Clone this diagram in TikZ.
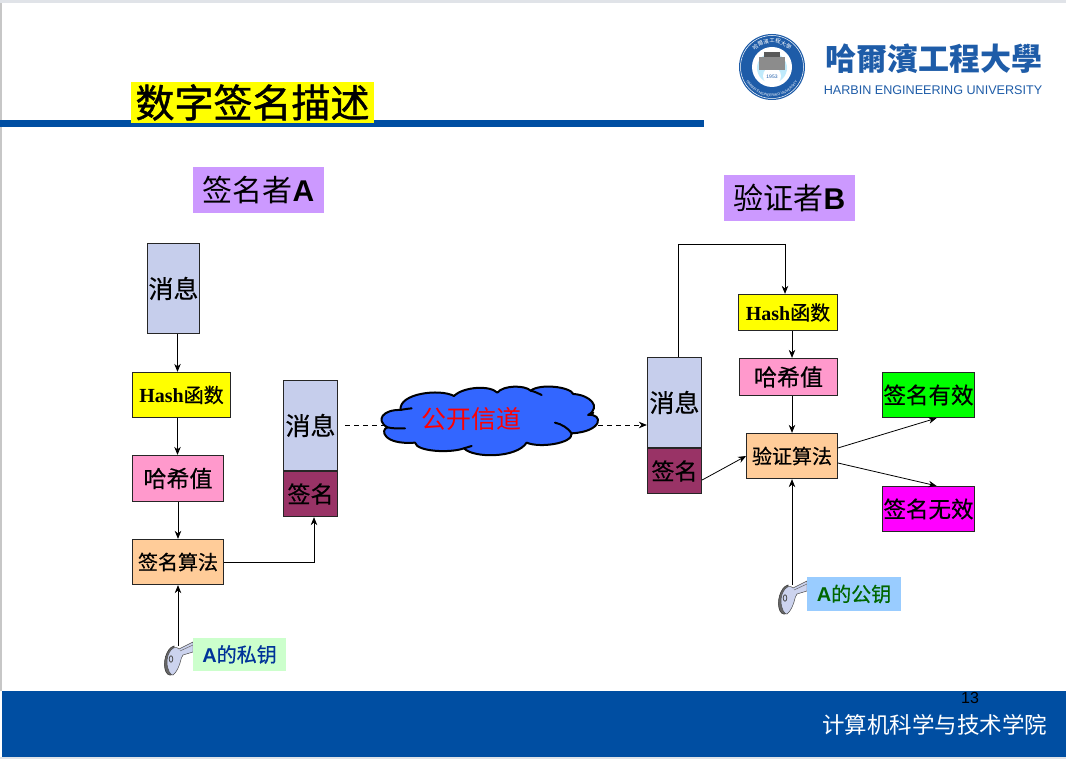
\documentclass[tikz,border=0pt]{standalone}
\usepackage{fontspec}
\setmainfont{Noto Sans CJK SC}
\newfontfamily\latf{Liberation Sans}
\newfontfamily\serf{Liberation Serif}
\newfontfamily\tcf{Noto Sans CJK TC}
\newfontfamily\heavyf[FakeBold=0.5]{Noto Sans CJK SC}
\newfontfamily\titlef[FakeBold=1.2]{Noto Sans CJK SC}
\usetikzlibrary{arrows.meta,decorations.text}
\newcommand{\fsz}[1]{\fontsize{#1}{#1}\selectfont}
\definecolor{msgc}{HTML}{C6CEEC}
\definecolor{sigc}{HTML}{993366}
\definecolor{pinkc}{HTML}{FF99CC}
\definecolor{orgc}{HTML}{FFCC99}
\definecolor{purc}{HTML}{CC99FF}
\definecolor{navy}{HTML}{004EA2}
\definecolor{logoc}{HTML}{1E5CA8}
\definecolor{grayb}{HTML}{E0E3E8}
\definecolor{yel}{HTML}{FFFF00}
\definecolor{grn}{HTML}{00FF00}
\definecolor{mag}{HTML}{FF00FF}
\definecolor{redc}{HTML}{FF0000}
\definecolor{cloudc}{HTML}{3366FF}
\definecolor{ltgrn}{HTML}{CCFFCC}
\definecolor{ltblue}{HTML}{99CCFF}
\definecolor{dkblue}{HTML}{003399}
\definecolor{dkgrn}{HTML}{006600}
\tikzset{
  box/.style={draw=black!85,line width=.8pt,inner sep=0pt,align=center,text=black,font=\heavyf},
  tag/.style={inner sep=0pt,align=center},
  conn/.style={line width=.8pt,-{Stealth[length=8pt,width=6.5pt]}},
  dashconn/.style={conn,dash pattern=on 5pt off 4pt},
  keypic/.pic={
    \fill[black!60,draw=black!80,line width=.5pt] (2,-14) .. controls (-6,-12) and (-10,4) .. (-6,12) .. controls (-4,16) and (0,16) .. (2,13) -- cycle;
    \draw[fill=msgc!90!white,draw=black!70,line width=.5pt] (21,-18) -- (7,-11) .. controls (2,-16) and (-5,-8) .. (-5,2) .. controls (-5,10) and (-1,16) .. (1,15) .. controls (5,12) and (7,6) .. (8,3) .. controls (9,-1) and (10,-4) .. (11,-5) -- (21,-8) -- cycle;
    \draw[black!70,line width=.8pt] (-1,-1) ellipse (1.8pt and 3.2pt);
    \draw[black!60,line width=.5pt] (8,-9) -- (21,-15);
  }
}
\begin{document}
\begin{tikzpicture}[x=1pt,y=-1pt]
\useasboundingbox (0,0) rectangle (1066,759);
% page frame
\fill[white] (0,0) rectangle (1066,759);
\fill[grayb] (0,0) rectangle (1066,3);
\fill[black!22] (0,3) rectangle (2,691);
\fill[navy] (2,691) rectangle (1066,757);
\fill[grayb] (0,757) rectangle (1066,759);
\fill[navy] (0,120) rectangle (704,127);
% title
\node[tag,fill=yel,minimum width=243pt,minimum height=41pt] (title) at (252.5,102.5) {\titlef\fsz{39}数字签名描述};
% logo
\fill[logoc] (772,67) circle (33pt);
\draw[white,line width=.5pt] (772,67) circle (31.5pt);
\fill[white] (772,67) circle (20pt);
\fill[cyan!25] (772,68) circle (15pt);
\fill[white] (772,76) circle (9pt);
\fill[black!45] (759,57) rectangle (785,70);
\fill[black!65] (764,52) rectangle (780,57);
\node[inner sep=0pt,text=logoc] (yr) at (772,77) {\latf\fsz{5}1953};
\begin{scope}[shift={(772,67)},y=1pt]
\path[decorate,decoration={text along path,text align=center,text color=white,
  text={|\latf\fsz{3.6}|HARBIN ENGINEERING UNIVERSITY}}]
  (200:29.5) arc[start angle=200,end angle=340,radius=29.5];
\path[decorate,decoration={text along path,text align=center,text color=white,
  text={|\tcf\fsz{5.5}|哈爾濱工程大學}}]
  (160:24) arc[start angle=160,end angle=20,radius=24];
\end{scope}
\node[inner sep=0pt,text=logoc] (logoname) at (934,58.5) {\tcf\bfseries\fsz{31}哈爾濱工程大學};
\node[inner sep=0pt,text=logoc] (logoen) at (933,90) {\latf\fsz{12.6}HARBIN ENGINEERING UNIVERSITY};
% headings
\node[tag,fill=purc,minimum width=131pt,minimum height=46pt] (signer) at (258.5,190) {\fsz{30}\raisebox{-1pt}{签名者{\latf\bfseries A}}};
\node[tag,fill=purc,minimum width=131pt,minimum height=46pt] (verifier) at (789.5,198) {\fsz{30}\raisebox{-1pt}{验证者{\latf\bfseries B}}};
% signer column
\node[box,fill=msgc,minimum width=52.5pt,minimum height=90.5pt] (amsg) at (173.5,288.5) {\fsz{25}\raisebox{-1pt}{消息}};
\node[box,fill=yel,minimum width=98.5pt,minimum height=45.5pt] (ahash) at (181.5,395) {\fsz{20}{\serf\bfseries Hash}函数};
\node[box,fill=pinkc,minimum width=91pt,minimum height=46.5pt] (aval) at (178,478.5) {\fsz{23}哈希值};
\node[box,fill=orgc,minimum width=91pt,minimum height=45.5pt] (aalg) at (178,562) {\fsz{20}签名算法};
\node[box,fill=msgc,minimum width=54.5pt,minimum height=90.5pt] (smsg) at (310.5,425.5) {\fsz{25}\raisebox{-1pt}{消息}};
\node[box,fill=sigc,minimum width=54.5pt,minimum height=45.5pt] (ssig) at (310.5,494) {\fsz{23}签名};
% channel
\coordinate (dstart) at (345,425);
\coordinate (cleft) at (386,425);
\coordinate (cright) at (598,425);
\draw[dashconn,-] (dstart) -- (cleft);
\begin{scope}[shift={(340,370)},x=.3333pt,y=-.3333pt]
\draw[line width=2pt,fill=cloudc,draw=black,line join=round]
 (142,172) .. controls (105,150) and (130,118) .. (182,120)
 .. controls (175,70) and (300,55) .. (342,78)
 .. controls (370,50) and (450,45) .. (472,68)
 .. controls (490,45) and (555,45) .. (572,62)
 .. controls (600,40) and (690,50) .. (700,72)
 .. controls (750,75) and (785,110) .. (745,135)
 .. controls (790,130) and (790,185) .. (695,190)
 .. controls (700,220) and (600,235) .. (560,218)
 .. controls (530,265) and (400,265) .. (372,235)
 .. controls (330,250) and (230,245) .. (225,218)
 .. controls (130,225) and (120,180) .. (142,172) -- cycle;
\draw[line width=2pt,line cap=round]
 (142,172) .. controls (160,176) and (180,176) .. (195,175)
 (182,120) .. controls (190,118) and (205,116) .. (215,115)
 (572,62) .. controls (585,65) and (595,70) .. (605,75)
 (745,135) .. controls (750,132) and (755,130) .. (760,128)
 (695,190) .. controls (685,175) and (665,162) .. (645,158)
 (372,235) .. controls (380,232) and (390,230) .. (395,228);
\end{scope}
\node[inner sep=0pt,text=redc] (cloudlabel) at (471.7,419) {\fsz{25}公开信道};
% verifier column
\node[box,fill=msgc,minimum width=54.5pt,minimum height=90.5pt] (bmsg) at (674.5,402.5) {\fsz{25}\raisebox{-1pt}{消息}};
\node[box,fill=sigc,minimum width=54.5pt,minimum height=45.5pt] (bsig) at (674.5,471) {\fsz{23}签名};
\node[box,fill=yel,minimum width=99pt,minimum height=36.5pt] (bhash) at (788,312.5) {\fsz{20}{\serf\bfseries Hash}函数};
\node[box,fill=pinkc,minimum width=98.5pt,minimum height=37.5pt] (bval) at (788.5,377) {\fsz{23}哈希值};
\node[box,fill=orgc,minimum width=91pt,minimum height=45.5pt] (balg) at (792,456) {\fsz{20}验证算法};
\node[box,fill=grn,minimum width=92pt,minimum height=45.5pt] (ok) at (928.5,395) {\fsz{22.5}签名有效};
\node[box,fill=mag,minimum width=92pt,minimum height=45.5pt] (bad) at (928.5,509) {\fsz{22.5}签名无效};
% keys
\pic (akey) at (172,660) {keypic};
\pic (bkey) at (786,599) {keypic};
\node[tag,fill=ltgrn,minimum width=93pt,minimum height=33pt,text=dkblue] (apriv) at (239.5,654.5) {\heavyf\fsz{20}{\latf\bfseries A}的私钥};
\node[tag,fill=ltblue,minimum width=94pt,minimum height=34pt,text=dkgrn] (bpub) at (854,594) {\heavyf\fsz{20}{\latf\bfseries A}的公钥};
\coordinate (akeytop) at (178,646);
\coordinate (bkeytop) at (792,585);
\coordinate (turn) at (785,244);
% connectors
\draw[conn] (amsg.south -| 177.5,0) -- (ahash.north -| 177.5,0);
\draw[conn] (ahash.south -| 177.5,0) -- (aval.north -| 177.5,0);
\draw[conn] (aval.south) -- (aalg.north);
\draw[conn] (akeytop) -- (aalg.south);
\draw[conn] (aalg.east) -| (ssig.south -| 314,0);
\draw[dashconn] (cright) -- (cright -| bmsg.west);
\draw[line width=.8pt] ([xshift=4pt]bmsg.north) |- (turn);
\draw[conn] (turn) -- (turn |- bhash.north);
\draw[conn] (bhash.south -| 792,0) -- (bval.north -| 792,0);
\draw[conn] (bval.south -| 792,0) -- (balg.north);
\draw[conn] ([yshift=-9pt]bsig.east) -- (balg.west);
\draw[conn] ([yshift=8pt]balg.east) -- ([xshift=8pt]ok.south);
\draw[conn] ([yshift=-7pt]balg.east) -- ([xshift=8pt]bad.north);
\draw[conn] (bkeytop) -- (balg.south);
% footer
\node[inner sep=0pt] (pageno) at (970,698) {\latf\fsz{16}13};
\node[inner sep=0pt,text=white] (school) at (934.5,725) {\fsz{22.5}计算机科学与技术学院};
\end{tikzpicture}
\end{document}
